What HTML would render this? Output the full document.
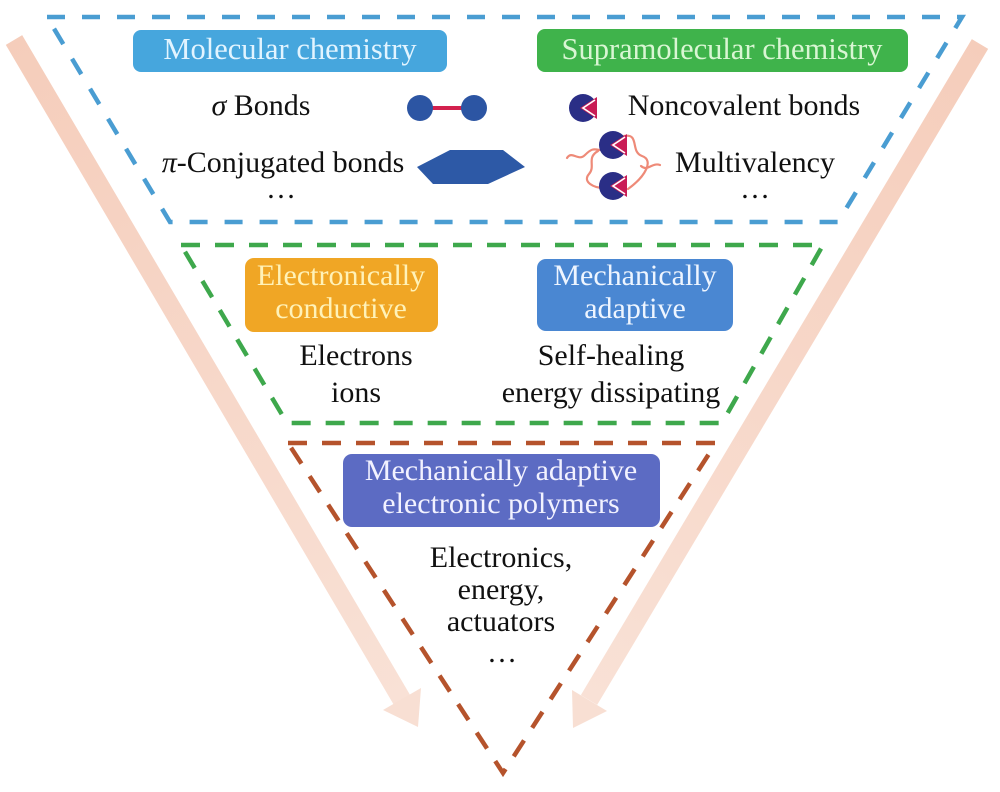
<!DOCTYPE html>
<html><head><meta charset="utf-8"><style>
html,body{margin:0;padding:0;background:#fff;}
svg{display:block;}
svg text{font-family:"Liberation Serif","Times New Roman",Tinos,"Noto Serif CJK SC",serif !important;}
</style></head><body>
<svg width="1000" height="792" viewBox="0 0 1000 792" xmlns="http://www.w3.org/2000/svg" font-family="'Liberation Serif', 'Times New Roman', Tinos, 'Noto Serif CJK SC', serif">
<defs>
<linearGradient id="gl" gradientUnits="userSpaceOnUse" x1="14" y1="40" x2="418" y2="727">
<stop offset="0" stop-color="#f5cdbb"/><stop offset="1" stop-color="#f9e2d7"/></linearGradient>
<linearGradient id="gr" gradientUnits="userSpaceOnUse" x1="980" y1="44" x2="573" y2="728">
<stop offset="0" stop-color="#f5cdbb"/><stop offset="1" stop-color="#f9e2d7"/></linearGradient>
</defs>
<rect width="1000" height="792" fill="#fff"/>
<!-- arrows -->
<line x1="14" y1="40" x2="402" y2="700" stroke="url(#gl)" stroke-width="19"/>
<polygon points="418,727 421,688 383,710" fill="#f8dfd3"/>
<line x1="980" y1="44" x2="589" y2="700" stroke="url(#gr)" stroke-width="19"/>
<polygon points="573,728 607,711 572,690" fill="#f8dfd3"/>

<!-- dashed frames -->
<polygon points="47,17 962,17 838,222 170,222" fill="none" stroke="#4a9dd2" stroke-width="4.5" stroke-dasharray="18 17"/>
<polygon points="181,245 823,245 722,423 287,423" fill="none" stroke="#3ea84c" stroke-width="4.5" stroke-dasharray="19 15"/>
<polygon points="288,443 716,443 503,773" fill="none" stroke="#b5532c" stroke-width="4.5" stroke-dasharray="19 15"/>

<g font-family="'Liberation Serif', 'Times New Roman', Tinos, 'Noto Serif CJK SC', serif">
<!-- pills -->
<rect x="133" y="30" width="314" height="42" rx="8" fill="#46a6dd"/>
<text x="290" y="59" font-size="30.5" text-anchor="middle" fill="#e2f4ff">Molecular chemistry</text>
<rect x="537" y="29" width="371" height="43" rx="8" fill="#3fb34b"/>
<text x="722" y="59" font-size="30.5" text-anchor="middle" fill="#d9f6d3">Supramolecular chemistry</text>

<rect x="245" y="258" width="193" height="74" rx="9" fill="#f0a625"/>
<text x="341" y="285" font-size="30" text-anchor="middle" fill="#fff2b8">Electronically</text>
<text x="341" y="318" font-size="30" text-anchor="middle" fill="#fff2b8">conductive</text>
<rect x="537" y="259" width="196" height="72" rx="9" fill="#4a87d2"/>
<text x="635" y="285" font-size="30" text-anchor="middle" fill="#eef5ff">Mechanically</text>
<text x="635" y="318" font-size="30" text-anchor="middle" fill="#eef5ff">adaptive</text>

<rect x="343" y="454" width="317" height="73" rx="9" fill="#5c6bc3"/>
<text x="501" y="480" font-size="30" text-anchor="middle" fill="#f2f2ff">Mechanically adaptive</text>
<text x="501" y="513" font-size="30" text-anchor="middle" fill="#f2f2ff">electronic polymers</text>

<!-- top texts -->
<text x="261" y="115" font-size="30" text-anchor="middle" fill="#111"><tspan font-style="italic">σ</tspan> Bonds</text>
<text x="283" y="172" font-size="30" text-anchor="middle" fill="#111"><tspan font-style="italic">π</tspan>-Conjugated bonds</text>
<text x="281" y="198" font-size="30" text-anchor="middle" fill="#111">…</text>
<text x="744" y="115" font-size="30" text-anchor="middle" fill="#111">Noncovalent bonds</text>
<text x="755" y="172" font-size="30" text-anchor="middle" fill="#111">Multivalency</text>
<text x="755" y="198" font-size="30" text-anchor="middle" fill="#111">…</text>

<!-- middle texts -->
<text x="356" y="365" font-size="30" text-anchor="middle" fill="#111">Electrons</text>
<text x="356" y="402" font-size="30" text-anchor="middle" fill="#111">ions</text>
<text x="611" y="365" font-size="30" text-anchor="middle" fill="#111">Self-healing</text>
<text x="611" y="402" font-size="30" text-anchor="middle" fill="#111">energy dissipating</text>

<!-- bottom texts -->
<text x="501" y="567" font-size="30" text-anchor="middle" fill="#111">Electronics,</text>
<text x="501" y="599" font-size="30" text-anchor="middle" fill="#111">energy,</text>
<text x="501" y="631" font-size="30" text-anchor="middle" fill="#111">actuators</text>
<text x="502" y="662" font-size="30" text-anchor="middle" fill="#111">…</text>
</g>

<!-- dumbbell -->
<line x1="420" y1="108" x2="474" y2="108" stroke="#d3214e" stroke-width="4"/>
<circle cx="420" cy="108" r="13" fill="#2c55a3"/>
<circle cx="474" cy="108" r="13" fill="#2c55a3"/>
<!-- hexagon -->
<polygon points="417,167 450,150 503,150 525,167 488,184 433,184" fill="#2d59a6"/>

<!-- squiggles -->
<g fill="none" stroke="#ee8a78" stroke-width="2.2" stroke-linecap="round">
<path d="M567,158 C572,150 578,162 585,155 S594,149 600,150"/>
<path d="M598,151 C586,158 596,166 589,174 S594,188 604,188"/>
<path d="M624,136 C640,133 630,152 642,156 S646,176 628,189"/>
<path d="M641,166 C648,172 652,162 660,165"/>
</g>
<!-- pacmen -->
<g>
<circle cx="583" cy="108" r="14" fill="#2a2e86"/>
<polygon points="580,108 597,97 597,119" fill="#c91c55"/>
<polyline points="595,100 583,108 595,116" fill="none" stroke="#fff" stroke-width="1.6"/>
<circle cx="613" cy="145" r="14" fill="#2a2e86"/>
<polygon points="610,145 627,134 627,156" fill="#c91c55"/>
<polyline points="625,137 613,145 625,153" fill="none" stroke="#fff" stroke-width="1.6"/>
<circle cx="613" cy="186" r="14" fill="#2a2e86"/>
<polygon points="610,186 627,175 627,197" fill="#c91c55"/>
<polyline points="625,178 613,186 625,194" fill="none" stroke="#fff" stroke-width="1.6"/>
</g>
</svg>
</body></html>
